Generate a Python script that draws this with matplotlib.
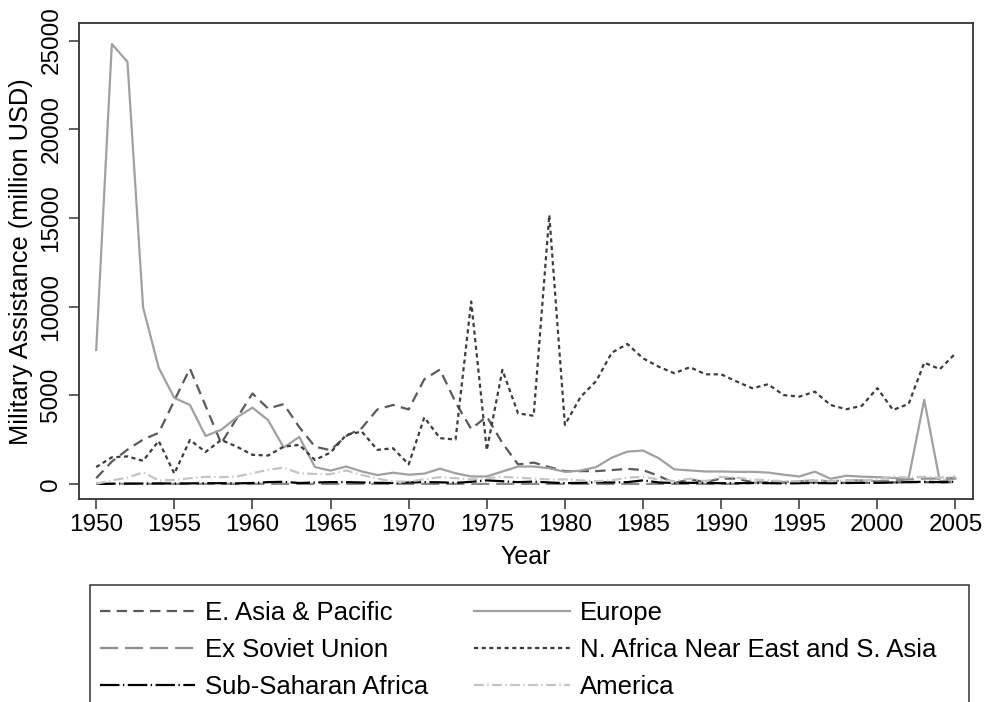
import matplotlib
matplotlib.use('Agg')
import matplotlib.pyplot as plt
from matplotlib.patches import Rectangle

years = list(range(1950, 2006))

e_asia = [320, 1260, 1930, 2500, 2880, 4700, 6500, 4400, 2290, 3700,
          5100, 4250, 4500, 3200, 2100, 1900, 2700, 3150, 4200, 4450,
          4200, 5900, 6450, 4600, 3100, 3800, 2300, 1100, 1200, 950,
          720, 720, 720, 780, 850, 780, 450, 50, 250, 100,
          300, 300, 100, 80, 60, 60, 80, 60, 60, 60,
          80, 80, 100, 100, 80, 100]

europe = [7550, 24800, 23800, 9950, 6550, 4850, 4450, 2700, 3050, 3750,
          4300, 3600, 2050, 2650, 950, 750, 980, 700, 500, 630,
          520, 580, 860, 600, 420, 420, 700, 980, 980, 880,
          680, 750, 950, 1480, 1820, 1880, 1450, 820, 760, 700,
          700, 680, 680, 640, 520, 420, 690, 290, 460, 410,
          380, 330, 320, 4740, 140, 300]

ex_soviet = [0] * 42 + [50, 150, 100, 150, 200, 150, 200, 200,
                        150, 200, 250, 300, 300, 350]

n_africa = [950, 1500, 1550, 1300, 2420, 580, 2480, 1800, 2480, 2100,
            1640, 1600, 2100, 2200, 1350, 1770, 2760, 2950, 1920, 2010,
            1100, 3750, 2580, 2500, 10280, 1900, 6430, 3980, 3840, 15160,
            3330, 4900, 5800, 7400, 7890, 7080, 6610, 6240, 6580, 6180,
            6180, 5770, 5390, 5620, 5010, 4920, 5200, 4450, 4210, 4400,
            5400, 4170, 4510, 6840, 6470, 7360]

sub_saharan = [0, 10, 20, 20, 30, 20, 30, 40, 40, 30,
               50, 100, 120, 50, 80, 100, 100, 80, 60, 50,
               80, 100, 90, 60, 120, 200, 150, 100, 130, 80,
               40, 60, 90, 80, 100, 200, 80, 50, 60, 50,
               40, 40, 50, 40, 30, 40, 50, 40, 50, 60,
               60, 80, 100, 120, 100, 120]

america = [0, 200, 350, 650, 200, 220, 320, 400, 380, 420,
           600, 790, 920, 600, 560, 550, 760, 500, 300, 130,
           130, 260, 380, 320, 260, 320, 400, 350, 300, 250,
           250, 200, 150, 200, 350, 400, 250, 150, 300, 150,
           400, 350, 250, 200, 150, 150, 200, 150, 200, 200,
           250, 420, 350, 400, 350, 420]

plt.rcParams['font.family'] = ['Liberation Sans', 'DejaVu Sans']
plt.rcParams['lines.scale_dashes'] = False

W, H = 989, 702
fig = plt.figure(figsize=(W / 100, H / 100), dpi=100)
ax = fig.add_axes([0.0799, 0.2892, 0.9036, 0.6776])

ax.plot(years, e_asia, color='#5a5a5a', lw=1.6, ls=(0, (7.5, 4.5)), label='E. Asia & Pacific')
ax.plot(years, europe, color='#a0a0a0', lw=1.6, ls='-', label='Europe')
ax.plot(years, ex_soviet, color='#8c8c8c', lw=1.6, ls=(0, (13, 5)), label='Ex Soviet Union')
ax.plot(years, n_africa, color='#3c3c3c', lw=1.6, ls=(0, (3, 2.5)), label='N. Africa Near East and S. Asia')
ax.plot(years, sub_saharan, color='black', lw=1.6, ls=(0, (14, 2.5, 1, 2.5)), label='Sub-Saharan Africa')
ax.plot(years, america, color='#c4c4c4', lw=1.6, ls=(0, (7, 2.5, 1, 2.5)), label='America')

ax.set_xlim(1948.9, 2006.1)
ax.set_ylim(-850, 25970)
ax.set_xticks(range(1950, 2006, 5))
ax.set_yticks(range(0, 25001, 5000))
ax.tick_params(axis='both', labelsize=17.5, length=7, width=1.1, color='#333333', direction='out')
ax.tick_params(axis='x', pad=4)
ax.tick_params(axis='y', pad=5)
for lab in ax.get_yticklabels():
    lab.set_rotation(90)
    lab.set_va('center')
for sp in ax.spines.values():
    sp.set_color('#333333')
    sp.set_linewidth(1.3)

ax.set_xlabel('Year', fontsize=18, labelpad=6)
ax.set_ylabel('Military Assistance (million USD)', fontsize=18.3, labelpad=5)

# legend box drawn by hand (runs off the bottom edge), entries placed inside
fig.add_artist(Rectangle((89.5 / W, -0.02), (969 - 89.5) / W, (H - 585) / H + 0.02,
                         transform=fig.transFigure, fill=False,
                         edgecolor='#333333', lw=1.1))

handles, labels = ax.get_legend_handles_labels()
order = [0, 2, 4, 1, 3, 5]
leg = fig.legend([handles[i] for i in order], [labels[i] for i in order],
                 ncol=2, loc='upper left', bbox_to_anchor=(100 / W, 1 - 601 / H),
                 fontsize=18.5, frameon=False, handlelength=3.7,
                 handletextpad=0.39, columnspacing=1.8, labelspacing=0.5,
                 borderpad=0, borderaxespad=0)

fig.savefig('out.png', dpi=100)
